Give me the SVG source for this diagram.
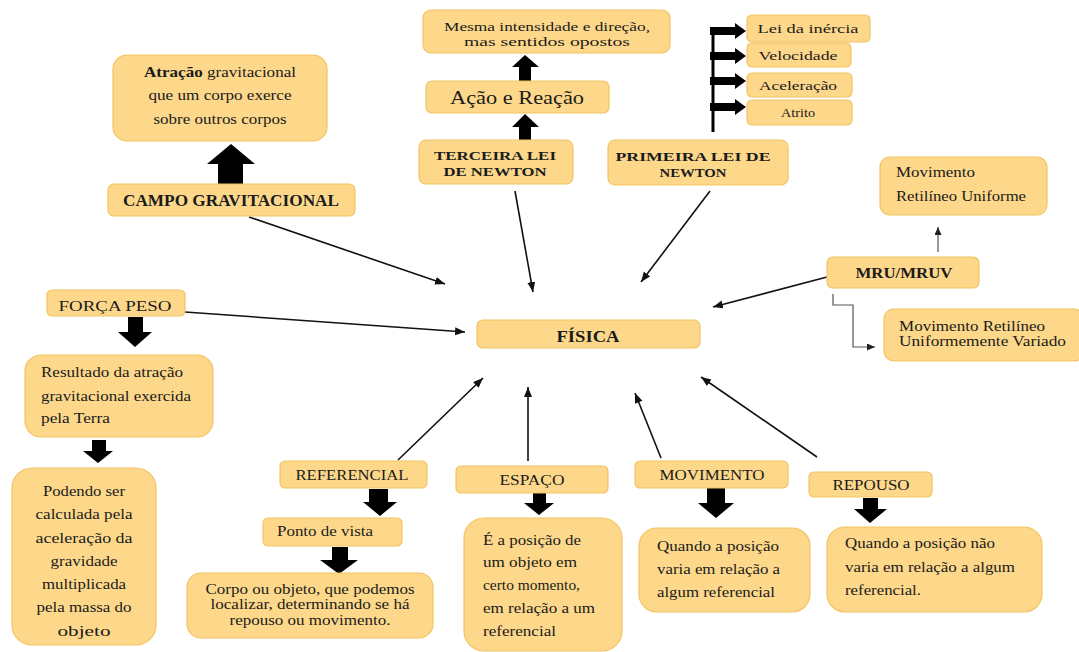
<svg xmlns="http://www.w3.org/2000/svg" width="1079" height="652" viewBox="0 0 1079 652">
<style>
.box{fill:#FDD88A;stroke:#F2C463;stroke-width:1.2}
text{font-family:"Liberation Serif","Times New Roman","DejaVu Serif",serif;fill:#1b1b1b}
.c{text-anchor:middle}
.b{font-weight:bold}
.con{fill:none;stroke:#111;stroke-width:1.6}
.thin{fill:none;stroke:#555;stroke-width:1.2}
.blk{fill:#000}
</style>
<defs>
<marker id="ah" markerUnits="userSpaceOnUse" markerWidth="12" markerHeight="10" refX="10" refY="4" orient="auto">
<path d="M0,0 L10,4 L0,8 Z" fill="#111"/>
</marker>
<marker id="ahs" markerUnits="userSpaceOnUse" markerWidth="10" markerHeight="8" refX="8" refY="3.5" orient="auto">
<path d="M0,0 L8,3.5 L0,7 Z" fill="#222"/>
</marker>
</defs>

<g id="connectors">
<line class="con" x1="249" y1="217" x2="445" y2="284" marker-end="url(#ah)"/>
<line class="con" x1="515" y1="191" x2="533" y2="292" marker-end="url(#ah)"/>
<line class="con" x1="710" y1="191" x2="641" y2="282" marker-end="url(#ah)"/>
<line class="con" x1="827" y1="277" x2="713" y2="307" marker-end="url(#ah)"/>
<line class="con" x1="185" y1="312" x2="465" y2="332" marker-end="url(#ah)"/>
<line class="con" x1="398" y1="460" x2="483" y2="378" marker-end="url(#ah)"/>
<line class="con" x1="528" y1="461" x2="528" y2="387" marker-end="url(#ah)"/>
<line class="con" x1="661" y1="458" x2="635" y2="393" marker-end="url(#ah)"/>
<line class="con" x1="817" y1="457" x2="701" y2="377" marker-end="url(#ah)"/>
<line class="thin" x1="938" y1="252" x2="938" y2="227" marker-end="url(#ahs)"/>
<polyline class="thin" points="833,294 833,305 853,305 853,347 875,347" marker-end="url(#ahs)"/>
<line x1="713" y1="27" x2="713" y2="132" stroke="#000" stroke-width="3"/>
<polygon class="blk" points="710,27 735,27 735,23 746,31 735,39 735,35 710,35"/>
<polygon class="blk" points="710,52 735,52 735,48 746,56 735,64 735,60 710,60"/>
<polygon class="blk" points="710,77 735,77 735,73 746,81 735,89 735,85 710,85"/>
<polygon class="blk" points="710,103 735,103 735,99 746,107 735,115 735,111 710,111"/>
<polygon class="blk" points="218,185 243,185 243,164 255,164 231,144 207,164 218,164"/>
<polygon class="blk" points="519,81 531,81 531,67 539,67 525,55 512,67 519,67"/>
<polygon class="blk" points="519,140 531,140 531,127 539,127 525,114 512,127 519,127"/>
<polygon class="blk" points="128,317 143,317 143,332 152,332 135,347 118,332 128,332"/>
<polygon class="blk" points="92,440 106,440 106,451 113,451 98,463 83,451 92,451"/>
<polygon class="blk" points="369,489 388,489 388,502 397,502 380,516 363,502 369,502"/>
<polygon class="blk" points="332,547 348,547 348,560 358,560 339,574 320,560 332,560"/>
<polygon class="blk" points="533,493 546,493 546,503 554,503 539,515 524,503 533,503"/>
<polygon class="blk" points="707,488 725,488 725,503 734,503 716,518 698,503 707,503"/>
<polygon class="blk" points="863,498 878,498 878,509 887,509 870,523 854,509 863,509"/>
</g>

<g id="n-atracao">
<rect class="box" x="113" y="55" width="214" height="86" rx="14"/>
<text class="c" x="220" y="77" font-size="14" textLength="152" lengthAdjust="spacingAndGlyphs"><tspan class="b">Atração</tspan> gravitacional</text>
<text class="c" x="220" y="100" font-size="14" textLength="143" lengthAdjust="spacingAndGlyphs">que um corpo exerce</text>
<text class="c" x="220" y="124" font-size="14" textLength="133" lengthAdjust="spacingAndGlyphs">sobre outros corpos</text>
</g>
<g id="n-campo">
<rect class="box" x="108" y="184" width="247" height="32" rx="6"/>
<text class="c b" x="231" y="206" font-size="16.5" textLength="216" lengthAdjust="spacingAndGlyphs">CAMPO GRAVITACIONAL</text>
</g>
<g id="n-mesma">
<rect class="box" x="423" y="10" width="247" height="43" rx="8"/>
<text class="c" x="547" y="31" font-size="13" textLength="206" lengthAdjust="spacingAndGlyphs">Mesma intensidade e direção,</text>
<text class="c" x="547" y="46" font-size="13" textLength="166" lengthAdjust="spacingAndGlyphs">mas sentidos opostos</text>
</g>
<g id="n-acao">
<rect class="box" x="426" y="81" width="183" height="32" rx="6"/>
<text class="c" x="517" y="104" font-size="19" textLength="134" lengthAdjust="spacingAndGlyphs">Ação e Reação</text>
</g>
<g id="n-terceira">
<rect class="box" x="419" y="140" width="154" height="44" rx="7"/>
<text class="c b" x="495" y="160" font-size="13.5" textLength="122" lengthAdjust="spacingAndGlyphs">TERCEIRA LEI</text>
<text class="c b" x="495" y="176" font-size="13.5" textLength="103" lengthAdjust="spacingAndGlyphs">DE NEWTON</text>
</g>
<g id="n-primeira">
<rect class="box" x="608" y="140" width="180" height="45" rx="7"/>
<text class="c b" x="693" y="161" font-size="13.5" textLength="155" lengthAdjust="spacingAndGlyphs">PRIMEIRA LEI DE</text>
<text class="c b" x="693" y="177" font-size="13.5" textLength="67" lengthAdjust="spacingAndGlyphs">NEWTON</text>
</g>
<g id="n-lei">
<rect class="box" x="747" y="15" width="123" height="27" rx="5"/>
<text class="c" x="808" y="33" font-size="13" textLength="101" lengthAdjust="spacingAndGlyphs">Lei da inércia</text>
</g>
<g id="n-velocidade">
<rect class="box" x="747" y="43" width="104" height="24" rx="5"/>
<text class="c" x="798" y="60" font-size="13" textLength="79" lengthAdjust="spacingAndGlyphs">Velocidade</text>
</g>
<g id="n-aceleracao">
<rect class="box" x="747" y="73" width="105" height="24" rx="5"/>
<text class="c" x="798" y="90" font-size="12" textLength="78" lengthAdjust="spacingAndGlyphs">Aceleração</text>
</g>
<g id="n-atrito">
<rect class="box" x="747" y="100" width="105" height="25" rx="5"/>
<text class="c" x="798" y="117" font-size="12.5" textLength="34" lengthAdjust="spacingAndGlyphs">Atrito</text>
</g>
<g id="n-mru">
<rect class="box" x="880" y="157" width="167" height="58" rx="10"/>
<text x="896" y="177" font-size="14" textLength="79" lengthAdjust="spacingAndGlyphs">Movimento</text>
<text x="896" y="201" font-size="14" textLength="130" lengthAdjust="spacingAndGlyphs">Retilíneo Uniforme</text>
</g>
<g id="n-mrumruv">
<rect class="box" x="827" y="257" width="152" height="31" rx="6"/>
<text class="c b" x="904" y="278" font-size="14.5" textLength="97" lengthAdjust="spacingAndGlyphs">MRU/MRUV</text>
</g>
<g id="n-mruv">
<rect class="box" x="884" y="309" width="200" height="52" rx="10"/>
<text x="899" y="331" font-size="14" textLength="146" lengthAdjust="spacingAndGlyphs">Movimento Retilíneo</text>
<text x="899" y="346" font-size="14" textLength="167" lengthAdjust="spacingAndGlyphs">Uniformemente Variado</text>
</g>
<g id="n-fisica">
<rect class="box" x="477" y="320" width="223" height="28" rx="6"/>
<text class="c b" x="588" y="342" font-size="17.5" textLength="63" lengthAdjust="spacingAndGlyphs">FÍSICA</text>
</g>
<g id="n-forca">
<rect class="box" x="47" y="290" width="138" height="26" rx="5"/>
<text class="c" x="115" y="311" font-size="15.5" textLength="113" lengthAdjust="spacingAndGlyphs">FORÇA PESO</text>
</g>
<g id="n-resultado">
<rect class="box" x="25" y="355" width="188" height="82" rx="16"/>
<text x="41" y="377" font-size="14.5" textLength="142" lengthAdjust="spacingAndGlyphs">Resultado da atração</text>
<text x="41" y="401" font-size="14.5" textLength="150" lengthAdjust="spacingAndGlyphs">gravitacional exercida</text>
<text x="41" y="423" font-size="14.5" textLength="69" lengthAdjust="spacingAndGlyphs">pela Terra</text>
</g>
<g id="n-podendo">
<rect class="box" x="12" y="468" width="144" height="177" rx="20"/>
<text class="c" x="84" y="496" font-size="14.5" textLength="82" lengthAdjust="spacingAndGlyphs">Podendo ser</text>
<text class="c" x="84" y="519" font-size="14.5" textLength="97" lengthAdjust="spacingAndGlyphs">calculada pela</text>
<text class="c" x="84" y="543" font-size="14.5" textLength="97" lengthAdjust="spacingAndGlyphs">aceleração da</text>
<text class="c" x="84" y="566" font-size="14.5" textLength="67" lengthAdjust="spacingAndGlyphs">gravidade</text>
<text class="c" x="84" y="589" font-size="14.5" textLength="84" lengthAdjust="spacingAndGlyphs">multiplicada</text>
<text class="c" x="84" y="612" font-size="14.5" textLength="95" lengthAdjust="spacingAndGlyphs">pela massa do</text>
<text class="c" x="84" y="636" font-size="14.5" textLength="53" lengthAdjust="spacingAndGlyphs">objeto</text>
</g>
<g id="n-referencial">
<rect class="box" x="280" y="461" width="147" height="27" rx="5"/>
<text class="c" x="352" y="480" font-size="14.5" textLength="113" lengthAdjust="spacingAndGlyphs">REFERENCIAL</text>
</g>
<g id="n-espaco">
<rect class="box" x="456" y="466" width="152" height="27" rx="5"/>
<text class="c" x="532" y="485" font-size="14.5" textLength="65" lengthAdjust="spacingAndGlyphs">ESPAÇO</text>
</g>
<g id="n-ponto">
<rect class="box" x="263" y="518" width="139" height="28" rx="5"/>
<text x="277" y="536" font-size="14" textLength="96" lengthAdjust="spacingAndGlyphs">Ponto de vista</text>
</g>
<g id="n-corpo">
<rect class="box" x="187" y="573" width="246" height="65" rx="14"/>
<text class="c" x="310" y="594" font-size="14" textLength="209" lengthAdjust="spacingAndGlyphs">Corpo ou objeto, que podemos</text>
<text class="c" x="310" y="609" font-size="14" textLength="199" lengthAdjust="spacingAndGlyphs">localizar, determinando se há</text>
<text class="c" x="310" y="625" font-size="14" textLength="161" lengthAdjust="spacingAndGlyphs">repouso ou movimento.</text>
</g>
<g id="n-posicao">
<rect class="box" x="464" y="518" width="158" height="133" rx="20"/>
<text x="483" y="545" font-size="14.5" textLength="98" lengthAdjust="spacingAndGlyphs">É a posição de</text>
<text x="483" y="567" font-size="14.5" textLength="94" lengthAdjust="spacingAndGlyphs">um objeto em</text>
<text x="483" y="590" font-size="14.5" textLength="97" lengthAdjust="spacingAndGlyphs">certo momento,</text>
<text x="483" y="613" font-size="14.5" textLength="112" lengthAdjust="spacingAndGlyphs">em relação a um</text>
<text x="483" y="636" font-size="14.5" textLength="73" lengthAdjust="spacingAndGlyphs">referencial</text>
</g>
<g id="n-movimento">
<rect class="box" x="635" y="461" width="153" height="27" rx="5"/>
<text class="c" x="712" y="480" font-size="14.5" textLength="105" lengthAdjust="spacingAndGlyphs">MOVIMENTO</text>
</g>
<g id="n-repouso">
<rect class="box" x="809" y="472" width="123" height="25" rx="5"/>
<text class="c" x="871" y="490" font-size="14.5" textLength="77" lengthAdjust="spacingAndGlyphs">REPOUSO</text>
</g>
<g id="n-quandomov">
<rect class="box" x="639" y="528" width="171" height="84" rx="18"/>
<text x="657" y="551" font-size="14.5" textLength="122" lengthAdjust="spacingAndGlyphs">Quando a posição</text>
<text x="657" y="574" font-size="14.5" textLength="123" lengthAdjust="spacingAndGlyphs">varia em relação a</text>
<text x="657" y="597" font-size="14.5" textLength="118" lengthAdjust="spacingAndGlyphs">algum referencial</text>
</g>
<g id="n-quandonao">
<rect class="box" x="827" y="527" width="215" height="85" rx="18"/>
<text x="845" y="548" font-size="14.5" textLength="150" lengthAdjust="spacingAndGlyphs">Quando a posição não</text>
<text x="845" y="572" font-size="14.5" textLength="170" lengthAdjust="spacingAndGlyphs">varia em relação a algum</text>
<text x="845" y="595" font-size="14.5" textLength="76" lengthAdjust="spacingAndGlyphs">referencial.</text>
</g>
</svg>
